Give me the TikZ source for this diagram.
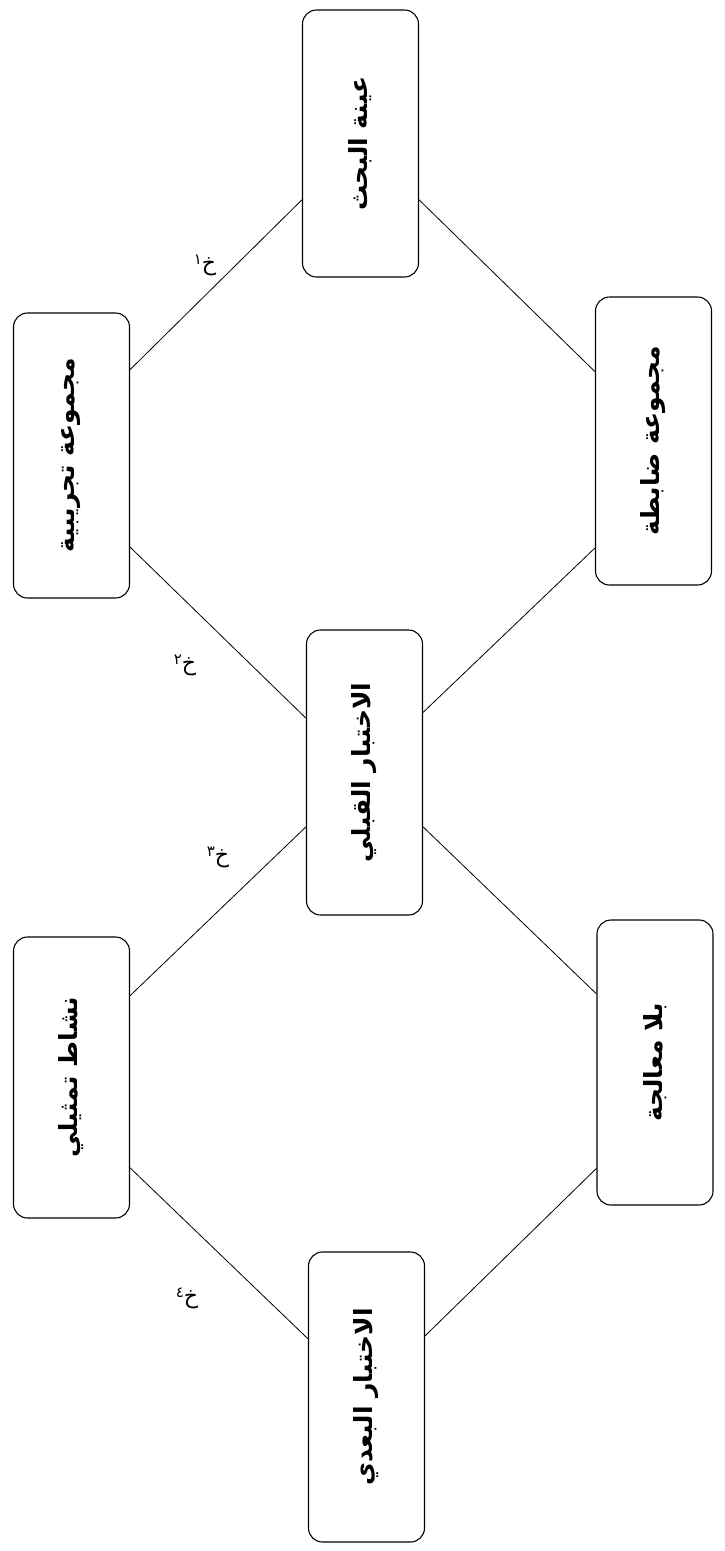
\documentclass[tikz,border=0pt]{standalone}
\usepackage{fontspec}
\usetikzlibrary{calc}
\newfontfamily\arabicfont[Script=Arabic]{DejaVu Sans}
\TeXXeTstate=1
\tikzset{
  box/.style={draw, line width=1.1pt, rounded corners=14pt, rotate=90,
    minimum height=116pt, inner sep=0pt, font=\arabicfont\bfseries\fontsize{25}{30}\selectfont},
  link/.style={line width=0.8pt},
  lbl/.style={font=\arabicfont\fontsize{22}{26}\selectfont, inner sep=0pt}
}
\newcommand{\ar}[1]{\beginR #1\endR}
\newcommand{\kh}[1]{\beginR خ\raisebox{0.5ex}{\fontsize{15}{18}\selectfont #1}\endR}
\begin{document}
\begin{tikzpicture}[x=1pt,y=-1pt]
\useasboundingbox (0,0) rectangle (724,1551);
\node[box, minimum width=267pt] (A) at (360.5,143.5) {\ar{عينة البحث}};
\node[box, minimum width=285pt] (B) at (71.5,455.5) {\ar{مجموعة تجريبية}};
\node[box, minimum width=288pt] (C) at (653.5,441) {\ar{مجموعة ضابطة}};
\node[box, minimum width=285pt] (D) at (364.5,772.5) {\ar{الاختبار القبلي}};
\node[box, minimum width=281pt] (E) at (71.5,1077.5) {\ar{نشاط تمثيلي}};
\node[box, minimum width=285pt] (F) at (655,1062.5) {\ar{بلا معالجة}};
\node[box, minimum width=290pt] (G) at (366.5,1397) {\ar{الاختبار البعدي}};
% rotated nodes: north = image left side, south = image right side,
% east = image top, west = image bottom
\draw[link] ($(A.north east)!0.71!(A.north west)$) -- ($(B.south east)!0.20!(B.south west)$);
\draw[link] ($(A.south east)!0.71!(A.south west)$) -- ($(C.north east)!0.26!(C.north west)$);
\draw[link] ($(B.south east)!0.82!(B.south west)$) -- ($(D.north east)!0.31!(D.north west)$);
\draw[link] ($(C.north east)!0.87!(C.north west)$) -- ($(D.south east)!0.29!(D.south west)$);
\draw[link] ($(D.north east)!0.69!(D.north west)$) -- ($(E.south east)!0.21!(E.south west)$);
\draw[link] ($(D.south east)!0.69!(D.south west)$) -- ($(F.north east)!0.26!(F.north west)$);
\draw[link] ($(E.south east)!0.82!(E.south west)$) -- ($(G.north east)!0.30!(G.north west)$);
\draw[link] ($(F.north east)!0.87!(F.north west)$) -- ($(G.south east)!0.29!(G.south west)$);
\node[lbl] (l1) at (205,265) {\kh{١}};
\node[lbl] (l2) at (185,665) {\kh{٢}};
\node[lbl] (l3) at (218,857) {\kh{٣}};
\node[lbl] (l4) at (187,1298) {\kh{٤}};
\end{tikzpicture}
\end{document}
